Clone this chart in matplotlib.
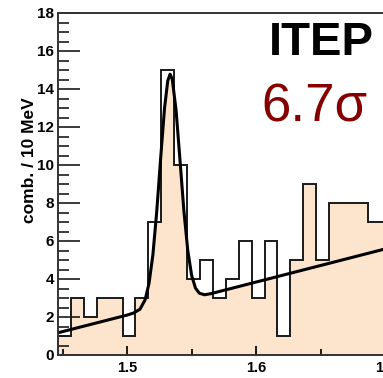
import numpy as np
import matplotlib
matplotlib.use("Agg")
import matplotlib.pyplot as plt
from matplotlib.ticker import MultipleLocator

plt.rcParams['font.family'] = ['Liberation Sans', 'DejaVu Sans']

# histogram: combinations per 10 MeV bin
bin_lo = 1.4465
bin_w = 0.01
counts = [1, 3, 2, 3, 3, 1, 3, 7, 15, 10, 4, 5, 3, 4, 6, 3, 6, 1, 5, 9, 5, 8, 8, 8, 7, 7]

# fit curve
fit_x = [1.4465, 1.500, 1.505, 1.510, 1.514, 1.517, 1.520, 1.523, 1.526, 1.529,
         1.5315, 1.5333, 1.535, 1.538, 1.541, 1.544, 1.547, 1.550, 1.553, 1.556,
         1.560, 1.565, 1.698]
fit_y = [1.17, 2.10, 2.21, 2.41, 2.91, 3.77, 5.28, 7.57, 10.35, 12.99,
         14.43, 14.78, 14.52, 12.85, 10.24, 7.59, 5.51, 4.19, 3.52, 3.25,
         3.17, 3.23, 5.55]

# region where the shading follows the fit instead of the histogram
shade_lo, shade_hi = 1.5165, 1.6265

peach = '#fde4cd'
line_col = '#1a1a1a'

fig = plt.figure(figsize=(3.83, 3.78), dpi=100)
ax = fig.add_axes([58 / 383, 23 / 378, 327.3 / 383, 342 / 378])

edges = bin_lo + bin_w * np.arange(len(counts) + 1)
xs = np.linspace(edges[0], edges[-1], 5000)
idx = np.clip(np.searchsorted(edges, xs, side='right') - 1, 0, len(counts) - 1)
h = np.array(counts, dtype=float)[idx]
c = np.interp(xs, fit_x, fit_y)
mid = (xs >= shade_lo) & (xs < shade_hi)
top = np.where(mid, np.minimum(h, c), h)
ax.fill_between(xs, 0, top, color=peach, lw=0, zorder=1)

ax.stairs(counts, edges, baseline=0, color=line_col, lw=1.4, zorder=2)
ax.plot(fit_x, fit_y, color='black', lw=2.2, zorder=3, solid_joinstyle='round')

ax.set_xlim(1.4465, 1.7)
ax.set_ylim(0, 18)

ax.xaxis.set_major_locator(MultipleLocator(0.1))
ax.xaxis.set_minor_locator(MultipleLocator(0.05))
ax.yaxis.set_major_locator(MultipleLocator(2))
ax.yaxis.set_minor_locator(MultipleLocator(0.5))
ax.xaxis.set_major_formatter(plt.FuncFormatter(lambda v, p: "%.1f" % v))

ax.tick_params(axis='y', which='major', direction='in', length=15.8, width=1.2,
               color=line_col, pad=3, labelsize=11)
ax.tick_params(axis='y', which='minor', direction='in', length=7.9, width=1.2, color=line_col)
ax.tick_params(axis='x', which='major', direction='in', length=6.5, width=1.4,
               color=line_col, pad=4, labelsize=10.5)
ax.tick_params(axis='x', which='minor', direction='in', length=4.5, width=1.4, color=line_col)
for lab in ax.get_xticklabels() + ax.get_yticklabels():
    lab.set_fontweight('bold')

for s in ['left', 'bottom', 'top']:
    ax.spines[s].set_linewidth(1.4)
    ax.spines[s].set_color('#333333')
    ax.spines[s].set_zorder(4)
ax.spines['right'].set_visible(False)

fig.text(29.5 / 383, 1 - 160 / 378, "comb. / 10 MeV", rotation=90, ha='center', va='center',
         fontsize=12.5, fontweight='bold')
fig.text(321.5 / 383, 1 - 55 / 378, "ITEP", ha='center', va='baseline',
         fontsize=34, fontweight='bold', color='black')
fig.text(314.5 / 383, 1 - 122 / 378, "6.7\u03c3", ha='center', va='baseline',
         fontsize=38, color='#850000')

fig.savefig("out.png", dpi=100)
